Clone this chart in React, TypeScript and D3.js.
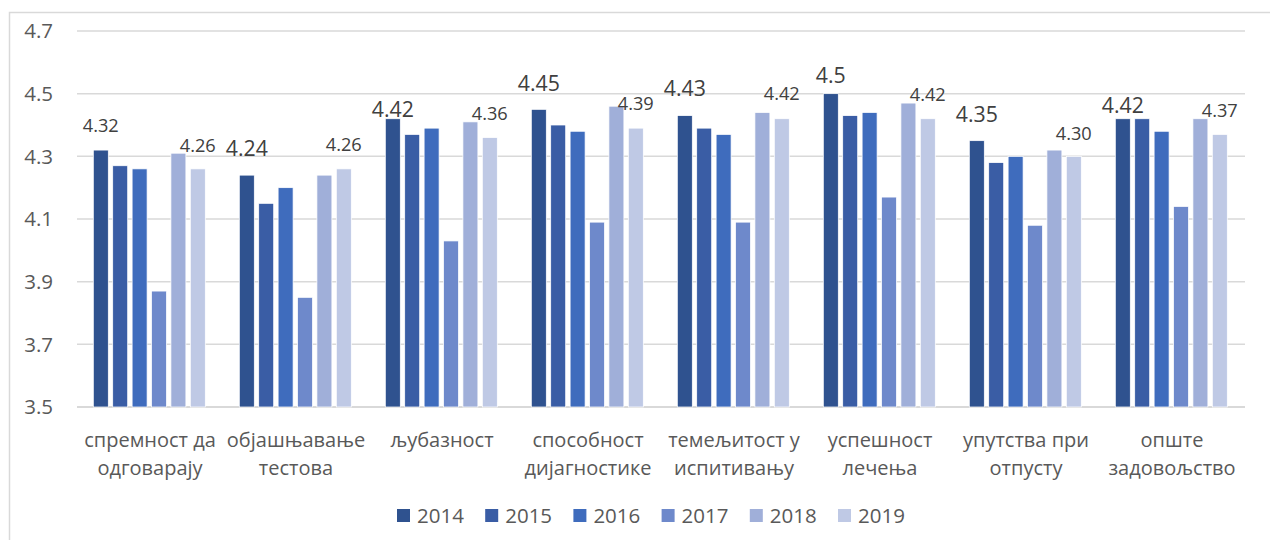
import React from "react";
import * as d3 from "d3";

const categories = [
  ["спремност да", "одговарају"],
  ["објашњавање", "тестова"],
  ["љубазност"],
  ["способност", "дијагностике"],
  ["темељитост у", "испитивању"],
  ["успешност", "лечења"],
  ["упутства при", "отпусту"],
  ["опште", "задовољство"],
];
const years = ["2014", "2015", "2016", "2017", "2018", "2019"];
const v2014 = [4.32, 4.24, 4.42, 4.45, 4.43, 4.5, 4.35, 4.42];
const v2015 = [4.27, 4.15, 4.37, 4.4, 4.39, 4.43, 4.28, 4.42];
const v2016 = [4.26, 4.2, 4.39, 4.38, 4.37, 4.44, 4.3, 4.38];
const v2017 = [3.87, 3.85, 4.03, 4.09, 4.09, 4.17, 4.08, 4.14];
const v2018 = [4.31, 4.24, 4.41, 4.46, 4.44, 4.47, 4.32, 4.42];
const v2019 = [4.26, 4.26, 4.36, 4.39, 4.42, 4.42, 4.3, 4.37];
const series = [v2014, v2015, v2016, v2017, v2018, v2019];
const labels2014 = ["4.32", "4.24", "4.42", "4.45", "4.43", "4.5", "4.35", "4.42"];
const labels2019 = ["4.26", "4.26", "4.36", "4.39", "4.42", "4.42", "4.30", "4.37"];
const yTicks = [3.5, 3.7, 3.9, 4.1, 4.3, 4.5, 4.7];

// styles / placement
const colors = ["#2F528F", "#3A5DA5", "#3F6CBD", "#6E89CB", "#A0AFD9", "#BFC9E5"];
const lift2014 = [17.7, 18.7, 1.8, 18.3, 19.4, 11, 18.3, 5.7];
const lift2019 = [17, 18, 17.7, 17.7, 18.3, 17.6, 16.7, 17.3];
const size2014 = [18.2, 21.3, 21.3, 21.3, 21.3, 21.3, 21.3, 21.3];

const FONT = "'Open Sans', sans-serif";

export default function App() {
  const W = 1270, H = 540;
  const left = 77, right = 1245, top = 31, bottom = 407;
  const x0 = d3.scaleBand<number>().domain(d3.range(categories.length)).range([left, right]).padding(0);
  const step = 19.4;
  const pin = 0.227;
  const innerW = step * (years.length - pin);
  const off = (x0.bandwidth() - innerW) / 2 - 0.7;
  const x1 = d3.scaleBand<string>().domain(years).range([off, off + innerW]).paddingInner(pin).paddingOuter(0);
  const y = d3.scaleLinear().domain([3.5, 4.7]).range([bottom, top]);

  const legendStart = 397;
  const legendStep = 88.2;

  return (
    <svg width={W} height={H} style={{ position: "absolute", left: 0, top: 0, background: "#fff" }}>
      <rect x={9.5} y={12.5} width={1300} height={600} fill="#fff" stroke="#D9D9D9" strokeWidth={1.5} />
      {yTicks.map((t) => (
        <g key={t}>
          <line x1={left} x2={right} y1={y(t)} y2={y(t)} stroke="#D9D9D9" strokeWidth={t === 3.5 ? 2 : 1.5} />
          <text x={53} y={y(t)} dy="0.36em" textAnchor="end" fontFamily={FONT} fontSize={20.5} fill="#595959">
            {d3.format(".1f")(t)}
          </text>
        </g>
      ))}
      {categories.map((c, i) => (
        <g key={i} transform={`translate(${x0(i)},0)`}>
          {series.map((s, j) => (
            <rect
              key={j}
              x={x1(years[j])}
              y={y(s[i])}
              width={x1.bandwidth()}
              height={y(3.5) - y(s[i])}
              fill={colors[j]}
              stroke="#fff"
              strokeWidth={0.75}
            />
          ))}
          <text
            x={(x1(years[0]) as number) + x1.bandwidth() / 2}
            y={y(v2014[i]) - lift2014[i]}
            textAnchor="middle"
            fontFamily={FONT}
            fontSize={size2014[i]}
            fill="#404040"
          >
            {labels2014[i]}
          </text>
          <text
            x={(x1(years[5]) as number) + x1.bandwidth() / 2}
            y={y(v2019[i]) - lift2019[i]}
            textAnchor="middle"
            fontFamily={FONT}
            fontSize={18.2}
            fill="#404040"
          >
            {labels2019[i]}
          </text>
          {c.map((line, k) => (
            <text
              key={k}
              x={x0.bandwidth() / 2}
              y={447 + k * 28}
              textAnchor="middle"
              fontFamily={FONT}
              fontSize={20}
              fill="#595959"
            >
              {line}
            </text>
          ))}
        </g>
      ))}
      {years.map((yr, j) => (
        <g key={yr} transform={`translate(${legendStart + j * legendStep},509)`}>
          <rect x={0} y={0} width={13} height={13} fill={colors[j]} />
          <text x={20} y={13.5} fontFamily={FONT} fontSize={20.5} fill="#595959">
            {yr}
          </text>
        </g>
      ))}
    </svg>
  );
}
